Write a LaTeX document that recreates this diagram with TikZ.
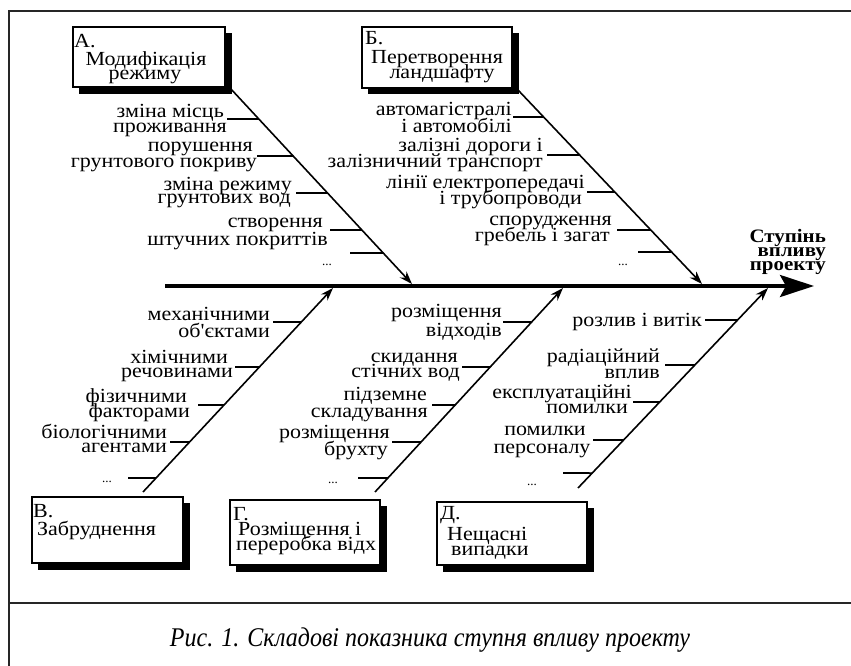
\documentclass[tikz,border=0pt]{standalone}
\usepackage{fontspec}
\setmainfont{Liberation Serif}
\newfontfamily\widefont[FakeStretch=1.1]{Liberation Serif}
\usetikzlibrary{arrows.meta,calc}
\newcommand{\myrib}[3]{\draw[rib] (#2,#3) -- (intersection cs:first line={(#1top)--(#1tip)}, second line={(0,#3)--(10,#3)});}
\begin{document}
\begin{tikzpicture}[x=1pt,y={(0pt,-1pt)},
  frameline/.style={line width=1.8pt, draw=black!85},
  spine/.style={line width=3.5pt, -{Stealth[length=34pt,width=22pt,inset=6pt]}},
  bone/.style={line width=1.6pt, -{Stealth[length=13pt,width=9pt]}},
  rib/.style={line width=1.6pt},
  cbox/.style={draw, line width=1.4pt, fill=white},
  shadowbox/.style={fill=black},
  ln/.style={font=\widefont\fontsize{20}{17}\selectfont, anchor=base east, inner sep=0pt},
  lnc/.style={font=\widefont\fontsize{20}{17}\selectfont, anchor=base, inner sep=0pt},
  lnw/.style={font=\widefont\fontsize{20}{17}\selectfont, anchor=base west, inner sep=0pt},
  dots/.style={font=\fontsize{13}{13}\selectfont, inner sep=0pt},
  effect/.style={font=\widefont\bfseries\fontsize{19}{15}\selectfont, anchor=base east, inner sep=0pt},
  caption/.style={font=\itshape\fontsize{27}{28}\selectfont, inner sep=0pt}
]
\useasboundingbox (0,0) rectangle (851,666);
% frame
\draw[frameline] (9,666) -- (9,11) -- (851,11);
\draw[frameline] (9,603) -- (851,603);

% spine
\coordinate (spL) at (165,286);
\coordinate (spR) at (814,286);
\draw[spine] (spL) -- (spR);

% boxes with shadows
\fill[shadowbox] (79,33) rectangle (232,94);
\draw[cbox] (73,27) rectangle (225,87);
\fill[shadowbox] (368,33) rectangle (519,94);
\draw[cbox] (362,27) rectangle (512,88);
\fill[shadowbox] (38,503) rectangle (190,570);
\draw[cbox] (32,497) rectangle (183,563);
\fill[shadowbox] (236,506) rectangle (387,572);
\draw[cbox] (230,500) rectangle (380,565);
\fill[shadowbox] (443,508) rectangle (594,572);
\draw[cbox] (437,502) rectangle (587,565);

% box texts
\node[lnw] (tA0) at (74,48) {А.};
\node[lnc] (tA1) at (146,66) {Модифікація};
\node[lnc] (tA2) at (145,80) {режиму};
\node[lnw] (tB0) at (365,45) {Б.};
\node[lnc] (tB1) at (437,64) {Перетворення};
\node[lnc] (tB2) at (442,79) {ландшафту};
\node[lnw] (tV0) at (33,517) {В.};
\node[lnw] (tV1) at (37,535) {Забруднення};
\node[lnw] (tG0) at (233,520) {Г.};
\node[lnw] (tG1) at (238,535) {Розміщення і};
\node[lnw] (tG2) at (236,550) {переробка відх};
\node[lnw] (tD0) at (440,519) {Д.};
\node[lnw] (tD1) at (447,540) {Нещасні};
\node[lnw] (tD2) at (451,555) {випадки};

% diagonals
\coordinate (Atop) at (230,88);  \coordinate (Atip) at (412,284);
\coordinate (Btop) at (518,90);  \coordinate (Btip) at (702,284);
\coordinate (Vtop) at (143,492); \coordinate (Vtip) at (333,288);
\coordinate (Gtop) at (375,492); \coordinate (Gtip) at (563,288);
\coordinate (Dtop) at (578,488); \coordinate (Dtip) at (768,288);
\draw[bone] (Atop) -- (Atip);
\draw[bone] (Btop) -- (Btip);
\draw[bone] (Vtop) -- (Vtip);
\draw[bone] (Gtop) -- (Gtip);
\draw[bone] (Dtop) -- (Dtip);

% ribs
\myrib{A}{227}{119} \myrib{A}{257}{156} \myrib{A}{296}{193} \myrib{A}{330}{230} \myrib{A}{350}{253}
\myrib{B}{513}{117} \myrib{B}{547}{155} \myrib{B}{587}{192} \myrib{B}{617}{230} \myrib{B}{638}{252}
\myrib{V}{273}{322} \myrib{V}{235}{367} \myrib{V}{198}{405} \myrib{V}{170}{442} \myrib{V}{128}{478}
\myrib{G}{503}{322} \myrib{G}{462}{367} \myrib{G}{432}{405} \myrib{G}{392}{442} \myrib{G}{358}{478}
\myrib{D}{705}{320} \myrib{D}{665}{365} \myrib{D}{633}{402} \myrib{D}{593}{440} \myrib{D}{563}{473}

% labels A
\node[ln] (a1a) at (224,118) {зміна місць};
\node[ln] (a1b) at (227,132) {проживання};
\node[ln] (a2a) at (253,152) {порушення};
\node[ln] (a2b) at (257,167) {грунтового покриву};
\node[ln] (a3a) at (292,190) {зміна режиму};
\node[ln] (a3b) at (291,203) {грунтових вод};
\node[ln] (a4a) at (323,227) {створення};
\node[ln] (a4b) at (328,245) {штучних покриттів};
\node[dots] (a5) at (327,265) {...};
% labels B
\node[ln] (b1a) at (512,116) {автомагістралі};
\node[ln] (b1b) at (512,132) {і автомобілі};
\node[ln] (b2a) at (543,152) {залізні дороги і};
\node[ln] (b2b) at (543,167) {залізничний транспорт};
\node[ln] (b3a) at (585,188) {лінії електропередачі};
\node[ln] (b3b) at (582,204) {і трубопроводи};
\node[ln] (b4a) at (612,225) {спорудження};
\node[ln] (b4b) at (610,241) {гребель і загат};
\node[dots] (b5) at (623,265) {...};
% labels V
\node[ln] (v1a) at (270,320) {механічними};
\node[ln] (v1b) at (270,337) {об'єктами};
\node[ln] (v2a) at (228,363) {хімічними};
\node[ln] (v2b) at (233,377) {речовинами};
\node[ln] (v3a) at (187,402) {фізичними};
\node[ln] (v3b) at (190,417) {факторами};
\node[ln] (v4a) at (167,438) {біологічними};
\node[ln] (v4b) at (167,452) {агентами};
\node[dots] (v5) at (107,482) {...};
% labels G
\node[ln] (g1a) at (502,317) {розміщення};
\node[ln] (g1b) at (502,336) {відходів};
\node[ln] (g2a) at (458,362) {скидання};
\node[ln] (g2b) at (460,377) {стічних вод};
\node[ln] (g3a) at (427,400) {підземне};
\node[ln] (g3b) at (428,417) {складування};
\node[ln] (g4a) at (390,438) {розміщення};
\node[ln] (g4b) at (388,455) {брухту};
\node[dots] (g5) at (333,483) {...};
% labels D
\node[ln] (d1) at (702,326) {розлив і витік};
\node[ln] (d2a) at (660,362) {радіаційний};
\node[ln] (d2b) at (660,378) {вплив};
\node[ln] (d3a) at (632,398) {експлуатаційні};
\node[ln] (d3b) at (628,413) {помилки};
\node[lnc] (d4a) at (545,435) {помилки};
\node[lnc] (d4b) at (542,453) {персоналу};
\node[dots] (d5) at (532,485) {...};

% effect
\node[effect] (eff1) at (826,242) {Ступінь};
\node[effect] (eff2) at (826,256) {впливу};
\node[effect] (eff3) at (826,270) {проекту};

% caption
\node[caption] (cap) at (430,640) {\scalebox{0.89}[1]{Рис. 1. Складові показника ступня впливу проекту}};
\end{tikzpicture}
\end{document}
